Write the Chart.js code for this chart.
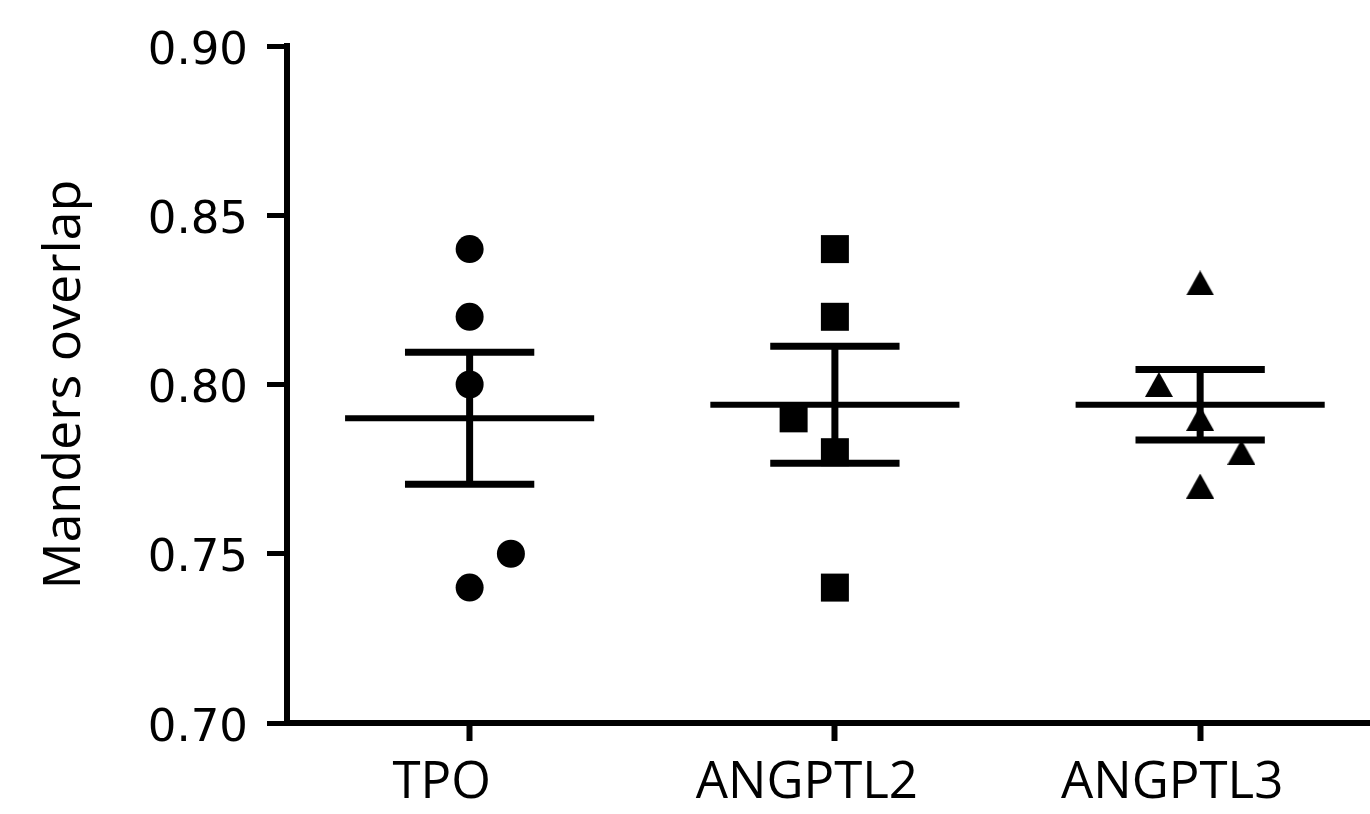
<!DOCTYPE html>
<html>
<head>
<meta charset="utf-8">
<title>Manders overlap</title>
<script src="https://cdn.jsdelivr.net/npm/chart.js@4.4.1/dist/chart.umd.min.js"></script>
<style>
  html, body { margin: 0; padding: 0; background: #fff; overflow: hidden; }
  #wrap { width: 1370px; height: 814px; position: relative; }
</style>
</head>
<body>
<div id="wrap"><canvas id="chart"></canvas></div>
<script>
// values
const categories = ['TPO', 'ANGPTL2', 'ANGPTL3'];
const tpoValues = [0.84, 0.82, 0.80, 0.75, 0.74];
const tpoJitter = [0, 0, 0, 0.113, 0];
const angptl2Values = [0.84, 0.82, 0.79, 0.78, 0.74];
const angptl2Jitter = [0, 0, -0.113, 0, 0];
const angptl3Values = [0.83, 0.80, 0.79, 0.78, 0.77];
const angptl3Jitter = [0, -0.113, 0, 0.113, 0];
const means = [0.790, 0.794, 0.794];
const sems = [0.0195, 0.0173, 0.0104];
const yTicks = [0.70, 0.75, 0.80, 0.85, 0.90];

const toPoints = (vals, jit, idx) => vals.map((v, i) => ({ x: idx + 1 + jit[i], y: v }));

// triangle marker, centred on its bounding box
const tri = document.createElement('canvas');
tri.width = 28; tri.height = 25;
const tctx = tri.getContext('2d');
tctx.fillStyle = '#000';
tctx.beginPath();
tctx.moveTo(14, 0);
tctx.lineTo(28, 25);
tctx.lineTo(0, 25);
tctx.closePath();
tctx.fill();

const meanBars = {
    id: 'meanBars',
    afterDatasetsDraw(chart) {
        const { ctx, scales: { x, y } } = chart;
        ctx.save();
        ctx.strokeStyle = '#000';
        ctx.lineCap = 'butt';
        means.forEach((m, i) => {
            const c = i + 1;
            const cx = x.getPixelForValue(c);
            const yM = y.getPixelForValue(m);
            const yHi = y.getPixelForValue(m + sems[i]);
            const yLo = y.getPixelForValue(m - sems[i]);
            // mean line
            ctx.lineWidth = 6;
            ctx.beginPath();
            ctx.moveTo(x.getPixelForValue(c - 0.341), yM);
            ctx.lineTo(x.getPixelForValue(c + 0.341), yM);
            ctx.stroke();
            // SEM
            ctx.lineWidth = 7;
            ctx.beginPath();
            ctx.moveTo(cx, yHi);
            ctx.lineTo(cx, yLo);
            ctx.moveTo(x.getPixelForValue(c - 0.177), yHi);
            ctx.lineTo(x.getPixelForValue(c + 0.177), yHi);
            ctx.moveTo(x.getPixelForValue(c - 0.177), yLo);
            ctx.lineTo(x.getPixelForValue(c + 0.177), yLo);
            ctx.stroke();
        });
        ctx.restore();
    }
};

new Chart(document.getElementById('chart'), {
    type: 'scatter',
    data: {
        datasets: [
            { data: toPoints(tpoValues, tpoJitter, 0), pointStyle: 'circle', pointRadius: 14, backgroundColor: '#000', borderWidth: 0 },
            { data: toPoints(angptl2Values, angptl2Jitter, 1), pointStyle: 'rect', pointRadius: 19.8, backgroundColor: '#000', borderWidth: 0 },
            { data: toPoints(angptl3Values, angptl3Jitter, 2), pointStyle: tri, pointRadius: 14, backgroundColor: '#000', borderWidth: 0 }
        ]
    },
    options: {
        responsive: true,
        maintainAspectRatio: false,
        animation: false,
        devicePixelRatio: 1,
        layout: { autoPadding: false, padding: { top: 45, right: 0, left: 0, bottom: 0 } },
        plugins: { legend: { display: false }, tooltip: { enabled: false } },
        scales: {
            x: {
                type: 'linear',
                min: 0.5,
                max: 3.465,
                afterFit: s => { s.height = 91; s.paddingLeft = 0; s.paddingRight = 0; },
                afterBuildTicks: s => { s.ticks = categories.map((c, i) => ({ value: i + 1 })); },
                border: { display: true, color: '#000', width: 6 },
                grid: { drawOnChartArea: false, drawTicks: true, tickLength: 18, tickWidth: 6, tickColor: '#000' },
                ticks: {
                    autoSkip: false,
                    maxRotation: 0,
                    padding: 12,
                    labelOffset: -28,
                    color: '#000',
                    font: { family: 'Open Sans', size: 51 },
                    callback: v => categories[Math.round(v) - 1]
                }
            },
            y: {
                min: 0.70,
                max: 0.90,
                afterFit: s => { s.width = 287; },
                afterBuildTicks: s => { s.ticks = yTicks.map(v => ({ value: v })); },
                border: { display: true, color: '#000', width: 6 },
                grid: { drawOnChartArea: false, drawTicks: true, tickLength: 20, tickWidth: 5, tickColor: '#000' },
                title: {
                    display: true,
                    text: 'Manders overlap',
                    color: '#000',
                    font: { family: 'Open Sans', size: 52 },
                    padding: { top: 34, bottom: 0 }
                },
                ticks: {
                    padding: 19,
                    labelOffset: 6,
                    color: '#000',
                    font: { family: 'DejaVu Sans', size: 45 },
                    callback: v => v.toFixed(2)
                }
            }
        }
    },
    plugins: [meanBars]
});
</script>
</body>
</html>
